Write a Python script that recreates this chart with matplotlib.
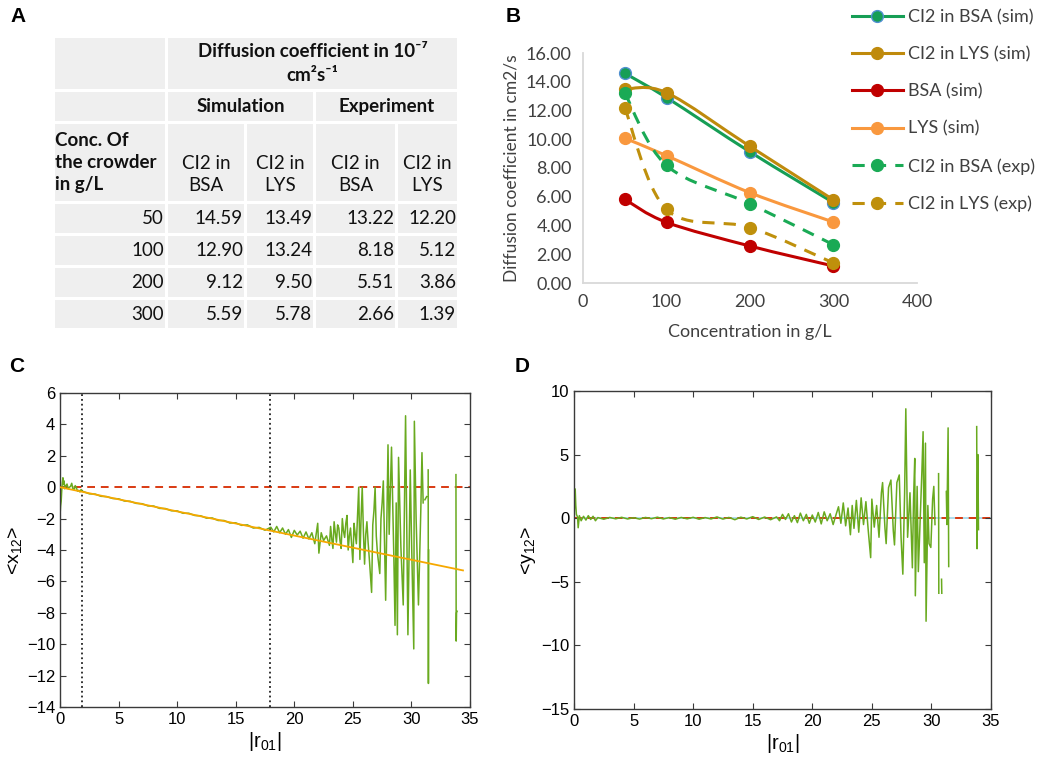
import numpy as np
import matplotlib.pyplot as plt
from matplotlib.path import Path
from matplotlib.patches import PathPatch, Rectangle
from matplotlib.lines import Line2D

plt.rcParams['mathtext.fontset'] = 'custom'
plt.rcParams['mathtext.rm'] = 'Liberation Sans'
plt.rcParams['mathtext.default'] = 'regular'

# ---------------- data ----------------
conc = [50, 100, 200, 300]
ci2_bsa_sim = [14.59, 12.90, 9.12, 5.59]
ci2_lys_sim = [13.49, 13.24, 9.50, 5.78]
ci2_bsa_exp = [13.22, 8.18, 5.51, 2.66]
ci2_lys_exp = [12.20, 5.12, 3.86, 1.39]
bsa_sim = [5.82, 4.22, 2.57, 1.18]
lys_sim = [10.07, 8.86, 6.28, 4.24]

# panel C: <x12> vs |r01|  (nan = gap in the trace)
c_r = [0.0, 0.05, 0.1, 0.15, 0.2, 0.25, 0.3, 0.35, 0.4, 0.5, 0.6, 0.7, 0.8, 0.9, 1.0, 1.1, 1.2,
       1.3, 1.4, 1.5, 1.6, 1.7, 1.8, 1.9,
       2.0, 2.5, 3.0, 3.5, 4.0, 4.5, 5.0, 5.5, 6.0, 6.5, 7.0, 7.5, 8.0, 8.5, 9.0, 9.5, 10.0,
       10.5, 11.0, 11.5, 12.0, 12.5, 13.0, 13.5, 14.0, 14.5, 15.0, 15.5, 16.0, 16.5, 17.0, 17.5,
       18.0, 18.25, 18.5, 18.75, 19.0, 19.25, 19.5, 19.75, 20.0, 20.25, 20.5, 20.75, 21.0,
       21.25, 21.5, 21.75, 22.0, 22.1, 22.3, 22.5, 22.75, 23.0,
       23.1, 23.2, 23.3, 23.4, 23.5, 23.6, 23.7, 23.8, 23.9, 24.0, 24.1, 24.2, 24.3, 24.4,
       24.5, 24.6, 24.7, 24.8, 24.9, 25.0, 25.1, 25.2, 25.3,
       25.5, 25.6, 25.7, 25.8, 25.9, 26.0, 26.1, 26.2, 26.3, 26.4, 26.6, 26.7, 26.8, 26.9,
       27.0, 27.1, 27.3, 27.4, 27.5, 27.6,
       27.8, 28.0, 28.1, 28.3, 28.5, 28.6, 28.7, 28.8, 28.9, 29.1, 29.3, 29.5, 29.6, 29.7,
       29.9, 30.0, 30.2, 30.25, 30.4, 30.6, 30.8, 30.9, 31.0, np.nan,
       31.15, 31.3, np.nan, 31.43, 31.45, 31.47, np.nan, 33.8, 33.82, 33.85, 33.9]
c_x = [-1.8, -1.2, -0.9, -0.2, 0.3, 0.6, 0.2, 0.4, -0.1, 0.1, 0.2, -0.1, 0.0, 0.05, 0.25, -0.1, -0.15,
       0.1, -0.05, -0.25, -0.2, -0.3, -0.15, -0.25,
       -0.28, -0.42, -0.44, -0.58, -0.60, -0.72, -0.74, -0.88, -0.90, -1.03, -1.05, -1.19, -1.20,
       -1.35, -1.36, -1.50, -1.51, -1.66, -1.66, -1.80, -1.82, -1.97, -1.96, -2.12, -2.12, -2.28,
       -2.27, -2.43, -2.40, -2.60, -2.56, -2.74,
       -2.55, -2.85, -2.50, -2.90, -2.60, -3.00, -2.70, -3.20, -2.75, -3.05, -2.80, -3.25, -2.85,
       -3.30, -2.90, -3.60, -2.30, -4.20, -2.90, -3.40, -3.10, -3.70,
       -2.5, -3.3, -3.9, -2.2, -2.9, -3.5, -2.4, -2.6, -3.4, -3.9, -2.0, -2.8, -3.2, -2.3,
       -1.8, -4.0, -3.1, -2.6, -3.7, -4.8, -2.3, -3.0, -3.6,
       0.0, -4.6, -2.0, 0.0, -2.8, -4.9, -3.0, -2.2, -3.5, -4.5, -6.7, -2.4, -1.5, 0.0,
       -3.1, -4.2, -5.5, -2.0, -1.0, 0.4,
       -7.2, 2.7, -3.0, 2.55, -4.5, -8.8, -1.0, -9.4, 1.9, -3.8, -7.5, 4.55, -2.5, -9.4,
       1.1, -3.0, -10.3, 4.2, -2.0, -7.5, -1.5, 2.2, -1.0, np.nan,
       -0.8, -0.6, np.nan, 1.1, -12.5, -4.0, np.nan, 0.8, -9.8, -8.0, -7.9]
fit_r = [0.0, 34.4]
fit_x = [0.0, -5.3]
c_vlines = [1.9, 17.9]

# panel D: <y12> vs |r01|
d_r = [0.0, 0.1, 0.15, 0.2, 0.3, 0.35, 0.45, 0.6, 0.8, 1.0, 1.2, 1.4, 1.6, 1.8,
       2.0, 2.5, 3.0, 3.5, 4.0, 4.5, 5.0, 5.5, 6.0, 6.5, 7.0, 7.5, 8.0, 8.5, 9.0, 9.5, 10.0,
       10.5, 11.0, 11.5, 12.0, 12.5, 13.0, 13.5, 14.0, 14.5, 15.0, 15.5, 16.0, 16.5,
       17.0, 17.25, 17.5, 17.75, 18.0, 18.25, 18.5, 18.75, 19.0, 19.25, 19.5, 19.75, 20.0,
       20.25, 20.5, 20.75, 21.0, 21.25, 21.5, 21.75, 22.0,
       22.2, 22.4, 22.6, 22.8, 23.0, 23.2, 23.35, 23.5, 23.7, 23.9, 24.1, 24.3, 24.5, 24.7,
       24.9, 25.0, 25.2, 25.4, 25.6, 25.8, 25.9, 26.1, 26.2, 26.4, 26.6, 26.8, 26.9, 27.1,
       27.3, 27.45, 27.6, 27.75, 27.85, 28.0, 28.2, 28.4, 28.5, 28.6, 28.65, 28.8, 28.9,
       29.1, 29.2, 29.3, 29.4, 29.5, 29.55, 29.7, 29.8, 29.95, 30.1, 30.2, 30.3, np.nan,
       30.6, 30.62, np.nan, 30.85, 30.87, np.nan, 31.25, 31.3, 31.4, 31.45, np.nan,
       33.8, 33.83, 33.9, 33.95]
d_y = [0.0, 2.3, 1.0, 0.3, 0.1, -0.75, 0.2, -0.2, 0.15, -0.15, 0.2, -0.1, 0.15, -0.2,
       0.05, -0.08, 0.06, -0.05, 0.07, -0.06, 0.04, -0.07, 0.06, -0.04, 0.08, -0.06, 0.05,
       -0.08, 0.06, -0.05, 0.07, -0.08, 0.05, -0.06, 0.10, -0.07, 0.06, -0.12, 0.08, -0.06,
       0.12, -0.10, 0.09, -0.12,
       0.10, -0.20, 0.30, -0.10, 0.35, -0.30, 0.20, -0.35, 0.40, -0.20, 0.30, -0.40, 0.25,
       -0.30, 0.45, -0.45, 0.50, -0.20, 0.35, -0.50, 0.30,
       0.9, -0.4, 1.2, -0.6, 0.8, -1.3, 1.0, -0.8, 1.4, -1.1, 1.6, -0.5, 1.3, -1.0,
       -3.1, 1.5, -0.7, 1.0, -1.5, 2.0, 2.8, -0.8, -2.0, 2.4, 3.0, -1.0, -2.1, 2.8,
       3.4, -1.5, -4.4, 2.0, 8.6, -1.5, 2.0, -3.9, 1.5, 4.7, -6.1, 2.5, -4.2,
       1.0, 3.7, 6.8, -3.5, 5.9, -8.1, 1.0, -2.0, -2.3, 1.5, 2.5, -0.5, np.nan,
       3.5, -5.9, np.nan, -4.8, -5.9, np.nan, 2.1, -0.5, 7.1, -3.8, np.nan,
       7.2, -2.4, 5.0, -0.9]

# table text
col_heads = ['CI2 in\nBSA', 'CI2 in\nLYS', 'CI2 in\nBSA', 'CI2 in\nLYS']
table_cols = [ci2_bsa_sim, ci2_lys_sim, ci2_bsa_exp, ci2_lys_exp]

W, H = 1038, 763
fig = plt.figure(figsize=(W / 100, H / 100), dpi=100)


def fig_rect(x0, y0, x1, y1):
    # pixel box (top-left origin) -> figure fraction rect
    return [x0 / W, 1 - y1 / H, (x1 - x0) / W, (y1 - y0) / H]


def smooth_path(xs, ys):
    # Excel-like smoothed line: cubic bezier through the points
    pts = np.column_stack([xs, ys]).astype(float)
    ext = np.vstack([pts[0], pts, pts[-1]])
    verts = [pts[0]]
    codes = [Path.MOVETO]
    for i in range(len(pts) - 1):
        p0, p1, p2, p3 = ext[i], ext[i + 1], ext[i + 2], ext[i + 3]
        verts += [p1 + (p2 - p0) / 6, p2 - (p3 - p1) / 6, p2]
        codes += [Path.CURVE4] * 3
    return Path(verts, codes)


# ---------------- overlay for table and panel letters ----------------
ax_t = fig.add_axes([0, 0, 1, 1])
ax_t.set_xlim(0, W)
ax_t.set_ylim(H, 0)
ax_t.axis('off')

col_edges = [(55, 165), (168, 244), (247, 313), (316, 395), (398, 457)]
row_edges = [(38, 89), (92, 121), (124, 201), (204, 233), (236, 265), (268, 297), (300, 328)]
cell_bg = '#efefef'
tfont = dict(family=['Lato', 'DejaVu Sans'], fontsize=13.5, color='#111111')


def cell(c0, c1, r):
    x0, x1 = col_edges[c0][0], col_edges[c1][1]
    y0, y1 = row_edges[r]
    ax_t.add_patch(Rectangle((x0, y0), x1 - x0, y1 - y0, facecolor=cell_bg, edgecolor='none'))
    return x0, x1, y0, y1


cell(0, 0, 0)
x0, x1, y0, y1 = cell(1, 4, 0)
ax_t.text((x0 + x1) / 2, (y0 + y1) / 2, 'Diffusion coefficient in 10⁻⁷\ncm²s⁻¹', ha='center',
          va='center', fontweight='bold', linespacing=1.45, **tfont)
cell(0, 0, 1)
x0, x1, y0, y1 = cell(1, 2, 1)
ax_t.text((x0 + x1) / 2, (y0 + y1) / 2, 'Simulation', ha='center', va='center', fontweight='bold', **tfont)
x0, x1, y0, y1 = cell(3, 4, 1)
ax_t.text((x0 + x1) / 2, (y0 + y1) / 2, 'Experiment', ha='center', va='center', fontweight='bold', **tfont)
x0, x1, y0, y1 = cell(0, 0, 2)
ax_t.text(x0, (y0 + y1) / 2, 'Conc. Of\nthe crowder\nin g/L', ha='left', va='center',
          fontweight='bold', linespacing=1.35, **tfont)
for j, head in enumerate(col_heads):
    x0, x1, y0, y1 = cell(j + 1, j + 1, 2)
    ax_t.text((x0 + x1) / 2, (y0 + y1) / 2 + 12, head, ha='center', va='center', linespacing=1.35, **tfont)
for i, c in enumerate(conc):
    x0, x1, y0, y1 = cell(0, 0, i + 3)
    ax_t.text(x1 - 1, (y0 + y1) / 2, str(c), ha='right', va='center', **tfont)
    for j, col in enumerate(table_cols):
        x0, x1, y0, y1 = cell(j + 1, j + 1, i + 3)
        ax_t.text(x1 - 1, (y0 + y1) / 2, '%.2f' % col[i], ha='right', va='center', **tfont)

lab = dict(fontsize=15, fontweight='bold', family='Liberation Sans', ha='center', va='center')
ax_t.text(18, 17, 'A', **lab)
ax_t.text(513, 16, 'B', **lab)
ax_t.text(17, 367, 'C', **lab)
ax_t.text(522, 367, 'D', **lab)

# ---------------- panel B ----------------
axB = fig.add_axes(fig_rect(583, 53, 917, 283))
series = [
    ('CI2 in BSA (sim)', ci2_bsa_sim, '#169e55', '-', '#4f8fd0'),
    ('CI2 in LYS (sim)', ci2_lys_sim, '#bf8a0c', '-', '#bf8a0c'),
    ('BSA (sim)', bsa_sim, '#c00000', '-', '#c00000'),
    ('LYS (sim)', lys_sim, '#f9983e', '-', '#f9983e'),
    ('CI2 in BSA (exp)', ci2_bsa_exp, '#1aaa55', (0, (4, 3)), '#1aaa55'),
    ('CI2 in LYS (exp)', ci2_lys_exp, '#bf900c', (0, (4, 3)), '#bf900c'),
]
handles = []
for k, (name, vals, col, ls, edge) in enumerate(series):
    axB.add_patch(PathPatch(smooth_path(conc, vals), fill=False, edgecolor=col, lw=2.2,
                            linestyle=ls, zorder=2 + k))
    axB.plot(conc, vals, linestyle='none', marker='o', ms=8.5, mfc=col, mec=edge, mew=1.0,
             zorder=2.5 + k)
    handles.append(Line2D([], [], color=col, lw=2.2, linestyle=ls, marker='o', ms=8.5,
                          mfc=col, mec=edge, mew=1.0))
axB.set_xlim(0, 400)
axB.set_ylim(0, 16)
axB.set_xticks([0, 100, 200, 300, 400])
axB.set_yticks(np.arange(0, 17, 2))
axB.set_yticklabels(['%.2f' % v for v in np.arange(0, 17, 2)])
for s in ['top', 'right']:
    axB.spines[s].set_visible(False)
for s in ['left', 'bottom']:
    axB.spines[s].set_color('#d9d9d9')
    axB.spines[s].set_linewidth(1.3)
axB.tick_params(length=0, labelsize=13, labelcolor='#404040', pad=8)
for t in axB.get_xticklabels() + axB.get_yticklabels():
    t.set_family(['Lato', 'DejaVu Sans'])
axB.set_ylabel('Diffusion coefficient in cm2/s', fontsize=12.5, family='Lato', color='#404040', labelpad=5)
axB.set_xlabel('Concentration in g/L', fontsize=13, family='Lato', color='#404040', labelpad=10)
fig.legend(handles=handles, labels=[s[0] for s in series], loc='upper left',
           bbox_to_anchor=(852 / W, 1 - 9 / H), frameon=False,
           prop={'family': 'Lato', 'size': 13}, handlelength=2.8, handletextpad=0.3,
           labelspacing=1.17, borderpad=0, borderaxespad=0, labelcolor='#404040')


def matlab_axes(ax):
    for s in ax.spines.values():
        s.set_color('#3a3a3a')
        s.set_linewidth(1.0)
    ax.tick_params(direction='in', top=True, right=True, length=4, width=0.8,
                   color='#3a3a3a', labelsize=12)
    for t in ax.get_xticklabels() + ax.get_yticklabels():
        t.set_family('Liberation Sans')


# ---------------- panel C ----------------
axC = fig.add_axes(fig_rect(60, 393, 470, 707))
axC.axhline(0, color='#d93a12', lw=1.4, linestyle=(0, (4, 3)), zorder=1)
for v in c_vlines:
    axC.axvline(v, color='#222222', lw=1.3, linestyle=':', zorder=1)
axC.plot(c_r, c_x, color='#69aa1f', lw=1.1, zorder=2)
axC.plot(fit_r, fit_x, color='#f6a800', lw=1.3, zorder=3)
axC.set_xlim(0, 35)
axC.set_ylim(-14, 6)
axC.set_xticks(np.arange(0, 36, 5))
axC.set_yticks(np.arange(-14, 7, 2))
matlab_axes(axC)
axC.set_ylabel('<x$_{12}$>', fontsize=14, family='Liberation Sans', labelpad=2)
axC.set_xlabel('|r$_{01}$|', fontsize=14.5, family='Liberation Sans', labelpad=2)

# ---------------- panel D ----------------
axD = fig.add_axes(fig_rect(574, 391, 991, 709))
axD.axhline(0, color='#9fd8ea', lw=1.2, zorder=1)
axD.axhline(0, color='#d93a12', lw=1.4, linestyle=(0, (4, 3)), zorder=1.5)
axD.plot(d_r, d_y, color='#69aa1f', lw=1.1, zorder=2)
axD.set_xlim(0, 35)
axD.set_ylim(-15, 10)
axD.set_xticks(np.arange(0, 36, 5))
axD.set_yticks(np.arange(-15, 11, 5))
matlab_axes(axD)
axD.set_ylabel('<y$_{12}$>', fontsize=14, family='Liberation Sans', labelpad=2)
axD.set_xlabel('|r$_{01}$|', fontsize=14.5, family='Liberation Sans', labelpad=2)

fig.savefig('out.png', dpi=100)
